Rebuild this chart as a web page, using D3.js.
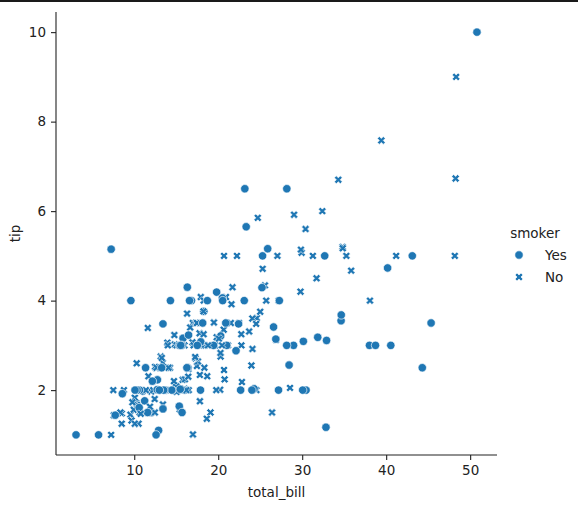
<!DOCTYPE html>
<html>
<head>
<meta charset="utf-8">
<script src="https://cdn.jsdelivr.net/npm/d3@7"></script>
<style>
  html, body { margin: 0; padding: 0; background: #fff; }
  svg { display: block; font-family: "DejaVu Sans", sans-serif; }
</style>
</head>
<body>
<svg id="chart" width="578" height="506"></svg>
<script>
// tips dataset, in row order
const totalBill = [16.99,10.34,21.01,23.68,24.59,25.29,8.77,26.88,15.04,14.78,10.27,35.26,15.42,18.43,14.83,21.58,10.33,16.29,16.97,20.65,
  17.92,20.29,15.77,39.42,19.82,17.81,13.37,12.69,21.7,19.65,9.55,18.35,15.06,20.69,17.78,24.06,16.31,16.93,18.69,31.27,
  16.04,17.46,13.94,9.68,30.4,18.29,22.23,32.4,28.55,18.04,12.54,10.29,34.81,9.94,25.56,19.49,38.01,26.41,11.24,48.27,
  20.29,13.81,11.02,18.29,17.59,20.08,16.45,3.07,20.23,15.01,12.02,17.07,26.86,25.28,14.73,10.51,17.92,27.2,22.76,17.29,
  19.44,16.66,10.07,32.68,15.98,34.83,13.03,18.28,24.71,21.16,28.97,22.49,5.75,16.32,22.75,40.17,27.28,12.03,21.01,12.46,
  11.35,15.38,44.3,22.42,20.92,15.36,20.49,25.21,18.24,14.31,14.0,7.25,38.07,23.95,25.71,17.31,29.93,10.65,12.43,24.08,
  11.69,13.42,14.26,15.95,12.48,29.8,8.52,14.52,11.38,22.82,19.08,20.27,11.17,12.26,18.26,8.51,10.33,14.15,16.0,13.16,
  17.47,34.3,41.19,27.05,16.43,8.35,18.64,11.87,9.78,7.51,14.07,13.13,17.26,24.55,19.77,29.85,48.17,25.0,13.39,16.49,
  21.5,12.66,16.21,13.81,17.51,24.52,20.76,31.71,10.59,10.63,50.81,15.81,7.25,31.85,16.82,32.9,17.89,14.48,9.6,34.63,
  34.65,23.33,45.35,23.17,40.55,20.69,20.9,30.46,18.15,23.1,15.69,19.81,28.44,15.48,16.58,7.56,10.34,43.11,13.0,13.51,
  18.71,12.74,13.0,16.4,20.53,16.47,26.59,38.73,24.27,12.76,30.06,25.89,48.33,13.27,28.17,12.9,28.15,11.59,7.74,30.14,
  12.16,13.42,8.58,15.98,13.42,16.27,10.09,20.45,13.28,22.12,24.01,15.69,11.61,10.77,15.53,10.07,12.6,32.83,35.83,29.03,
  27.18,22.67,17.82,18.78];

const tip = [1.01,1.66,3.5,3.31,3.61,4.71,2.0,3.12,1.96,3.23,1.71,5.0,1.57,3.0,3.02,3.92,1.67,3.71,3.5,3.35,
  4.08,2.75,2.23,7.58,3.18,2.34,2.0,2.0,4.3,3.0,1.45,2.5,3.0,2.45,3.27,3.6,2.0,3.07,2.31,5.0,
  2.24,2.54,3.06,1.32,5.6,3.0,5.0,6.0,2.05,3.0,2.5,2.6,5.2,1.56,4.34,3.51,3.0,1.5,1.76,6.73,
  3.21,2.0,1.98,3.76,2.64,3.15,2.47,1.0,2.01,2.09,1.97,3.0,3.14,5.0,2.2,1.25,3.08,4.0,3.0,2.71,
  3.0,3.4,1.83,5.0,2.03,5.17,2.0,4.0,5.85,3.0,3.0,3.5,1.0,4.3,3.25,4.73,4.0,1.5,3.0,1.5,
  2.5,3.0,2.5,3.48,4.08,1.64,4.06,4.29,3.76,4.0,3.0,1.0,4.0,2.55,4.0,3.5,5.07,1.5,1.8,2.92,
  2.31,1.68,2.5,2.0,2.52,4.2,1.48,2.0,2.0,2.18,1.5,2.83,1.5,2.0,3.25,1.25,2.0,2.0,2.0,2.75,
  3.5,6.7,5.0,5.0,2.3,1.5,1.36,1.63,1.73,2.0,2.5,2.0,2.74,2.0,2.0,5.14,5.0,3.75,2.61,2.0,
  3.5,2.5,2.0,2.0,3.0,3.48,2.24,4.5,1.61,2.0,10.0,3.16,5.15,3.18,4.0,3.11,2.0,2.0,4.0,3.55,
  3.68,5.65,3.5,6.5,3.0,5.0,3.5,2.0,3.5,4.0,1.5,4.19,2.56,2.02,4.0,1.44,2.0,5.0,2.0,2.0,
  4.0,2.01,2.0,2.5,4.0,3.23,3.41,3.0,2.03,2.23,2.0,5.16,9.0,2.5,6.5,1.1,3.0,1.5,1.44,3.09,
  2.2,3.48,1.92,3.0,1.58,2.5,2.0,3.0,2.72,2.88,2.0,3.0,3.39,1.47,3.0,1.25,1.0,1.17,4.67,5.92,
  2.0,2.0,1.75,3.0];

// 1 = smoker Yes, 0 = smoker No
const smoker = [0,0,0,0,0,0,0,0,0,0,0,0,0,0,0,0,0,0,0,0,
  0,0,0,0,0,0,0,0,0,0,0,0,0,0,0,0,0,0,0,0,
  0,0,0,0,0,0,0,0,0,0,0,0,0,0,0,0,1,0,1,0,
  1,1,1,1,0,0,0,1,0,1,0,0,1,1,0,0,1,0,0,0,
  1,0,0,1,0,0,0,0,0,0,1,0,1,1,0,1,1,1,1,0,
  1,1,1,1,0,1,1,1,0,1,0,0,0,0,0,0,0,0,0,0,
  0,0,0,0,0,0,0,0,0,0,0,0,0,0,0,0,0,0,1,0,
  0,0,0,0,0,0,0,0,0,0,0,0,0,0,0,0,0,0,0,0,
  0,0,0,0,1,0,0,0,1,1,1,1,1,1,1,1,1,1,1,1,
  1,1,1,1,1,0,1,1,1,1,1,1,1,1,1,0,1,1,1,1,
  1,1,1,1,1,1,1,1,1,1,1,1,0,1,1,1,1,1,1,1,
  1,1,1,0,1,1,1,0,0,1,1,1,0,0,1,0,1,1,0,0,
  1,1,0,0];

const smokerLevels = ["Yes", "No"];
const xTicks = [10, 20, 30, 40, 50];
const yTicks = [2, 4, 6, 8, 10];

const svg = d3.select("#chart");
const W = 578, H = 506;
const plotLeft = 56, plotRight = 497, plotTop = 12, plotBottom = 455;
const blue = "#1f77b4";

// notebook cell border at the very top
svg.append("rect").attr("x", 0).attr("y", 0).attr("width", W).attr("height", 2).attr("fill", "#1a1a1a");

const xPad = (d3.max(totalBill) - d3.min(totalBill)) * 0.05;
const yPad = (d3.max(tip) - d3.min(tip)) * 0.05;
const x = d3.scaleLinear()
  .domain([d3.min(totalBill) - xPad, d3.max(totalBill) + xPad])
  .range([plotLeft, plotRight]);
const y = d3.scaleLinear()
  .domain([d3.min(tip) - yPad, d3.max(tip) + yPad])
  .range([plotBottom, plotTop]);

// marker shapes: filled circle and matplotlib-style filled "X"
const ms = 8.4;
const circlePath = d3.symbol().type(d3.symbolCircle).size(Math.PI * (ms / 2) ** 2)();
function xMarkerPath(s) {
  const a = s / 2, w = s / 6;
  const pts = [[-w, -a], [w, -a], [w, -w], [a, -w], [a, w], [w, w], [w, a], [-w, a], [-w, w], [-a, w], [-a, -w], [-w, -w]];
  const c = Math.SQRT1_2;
  return "M" + pts.map(([px, py]) => [(px - py) * c, (px + py) * c].map(v => v.toFixed(3)).join(",")).join("L") + "Z";
}
const crossPath = xMarkerPath(ms);
const markerFor = s => s === 1 ? circlePath : crossPath;

// axes
const xAxis = svg.append("g")
  .attr("transform", `translate(0,${plotBottom})`)
  .call(d3.axisBottom(x).tickValues(xTicks).tickSize(5).tickPadding(5).tickSizeOuter(0));
const yAxis = svg.append("g")
  .attr("transform", `translate(${plotLeft},0)`)
  .call(d3.axisLeft(y).tickValues(yTicks).tickSize(5).tickPadding(5).tickSizeOuter(0));

[xAxis, yAxis].forEach(g => {
  g.select(".domain").remove();
  g.selectAll(".tick line").attr("stroke", "#222").attr("stroke-width", 1.1);
  g.selectAll(".tick text").attr("fill", "#222").style("font-size", "13.5px").style("font-family", "DejaVu Sans");
});

// spines (left and bottom only)
svg.append("line").attr("x1", plotLeft).attr("x2", plotLeft).attr("y1", plotTop).attr("y2", plotBottom)
  .attr("stroke", "#222").attr("stroke-width", 1.1);
svg.append("line").attr("x1", plotLeft).attr("x2", plotRight).attr("y1", plotBottom).attr("y2", plotBottom)
  .attr("stroke", "#222").attr("stroke-width", 1.1);

// points, drawn in row order
svg.append("g").selectAll("path")
  .data(d3.range(totalBill.length))
  .join("path")
  .attr("d", i => markerFor(smoker[i]))
  .attr("transform", i => `translate(${x(totalBill[i])},${y(tip[i])})`)
  .attr("fill", blue)
  .attr("stroke", "#fff")
  .attr("stroke-width", 0.65);

// axis labels
svg.append("text")
  .attr("x", (plotLeft + plotRight) / 2).attr("y", 497)
  .attr("text-anchor", "middle").attr("fill", "#222")
  .style("font-size", "13.5px").text("total_bill");
svg.append("text")
  .attr("transform", `translate(20,${(plotTop + plotBottom) / 2}) rotate(-90)`)
  .attr("text-anchor", "middle").attr("fill", "#222")
  .style("font-size", "13.5px").text("tip");

// legend
const legend = svg.append("g");
legend.append("text")
  .attr("x", 535).attr("y", 238)
  .attr("text-anchor", "middle").attr("fill", "#222")
  .style("font-size", "13.5px").text("smoker");
const items = legend.selectAll("g.item")
  .data(smokerLevels)
  .join("g")
  .attr("class", "item")
  .attr("transform", (d, i) => `translate(519,${255 + i * 22})`);
items.append("path")
  .attr("d", d => markerFor(d === "Yes" ? 1 : 0))
  .attr("fill", blue).attr("stroke", "#fff").attr("stroke-width", 0.65);
items.append("text")
  .attr("x", 26).attr("y", 5)
  .attr("fill", "#222")
  .style("font-size", "13.5px").text(d => d);
</script>
</body>
</html>
